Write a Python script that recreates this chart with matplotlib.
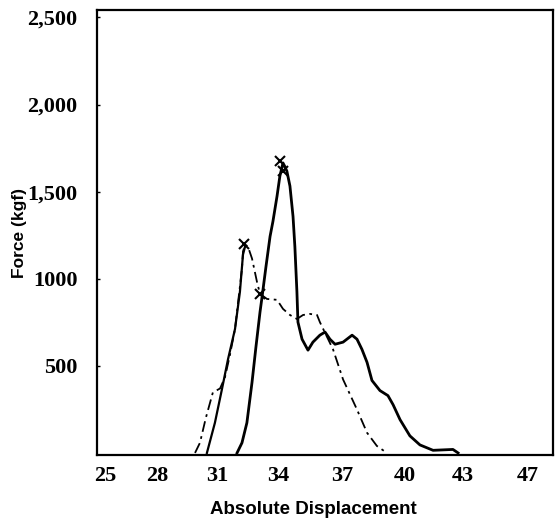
#!/usr/bin/env python3
import matplotlib

matplotlib.use("Agg")
import matplotlib.pyplot as plt

# main specimen (solid, thick)
solid_x = [31.98, 32.22, 32.46, 32.71, 32.90, 33.10, 33.20, 33.39, 33.59, 33.73,
           33.93, 34.07, 34.22, 34.41, 34.56, 34.71, 34.80, 34.90, 34.95, 35.15,
           35.44, 35.68, 36.02, 36.27, 36.51, 36.76, 37.15, 37.59, 37.83, 38.07,
           38.32, 38.56, 38.95, 39.34, 39.59, 39.93, 40.41, 40.90, 41.54, 42.51,
           42.76]
solid_y = [0, 58, 173, 405, 607, 809, 896, 1069, 1243, 1329,
           1474, 1590, 1665, 1618, 1532, 1358, 1185, 925, 751, 653,
           590, 636, 676, 694, 653, 624, 636, 676, 653, 595,
           520, 416, 358, 329, 277, 191, 98, 46, 15, 20,
           0]

# left specimen (solid, thinner, rising branch)
left_x = [30.51, 30.90, 31.24, 31.54, 31.88, 32.12, 32.27, 32.37]
left_y = [0, 173, 364, 538, 711, 925, 1139, 1185]

# dash-dot specimen
dash_x = [29.93, 30.17, 30.46, 30.80, 31.15, 31.39, 31.63, 31.88, 32.22, 32.27,
          32.37, 32.51, 32.71, 32.95, 33.10, 33.44, 33.93, 34.22, 34.56, 34.90,
          35.20, 35.54, 35.88, 36.02, 36.66, 37.15, 37.83, 38.32, 38.80, 39.29]
dash_y = [0, 58, 202, 347, 370, 434, 561, 711, 1058, 1156,
          1197, 1185, 1116, 983, 913, 884, 879, 827, 792, 769,
          792, 798, 792, 751, 595, 422, 249, 116, 40, 0]

# peak / crossing marks
mark_x = [34.07, 34.22, 32.33, 33.10]
mark_y = [1676, 1618, 1200, 915]

xtick_pos = [25.54, 28.07, 31.0, 33.98, 37.10, 40.17, 43.0, 46.17]
xtick_labels = ["25", "28", "31", "34", "37", "40", "43", "47"]
ytick_pos = [500, 1000, 1500, 2000, 2500]
ytick_labels = ["500", "1000", "1,500", "2,000", "2,500"]

fig = plt.figure(figsize=(5.55, 5.25), dpi=100)
ax = fig.add_axes([0.1748, 0.1333, 0.8216, 0.8477])

ax.plot(dash_x, dash_y, color="black", lw=1.3, ls=(0, (6, 2.5, 1.5, 2.5)))
ax.plot(left_x, left_y, color="black", lw=1.6)
ax.plot(solid_x, solid_y, color="black", lw=2.0)
ax.plot(mark_x, mark_y, ls="none", marker="x", ms=7, mew=1.5, color="black")

ax.set_xlim(25.15, 47.39)
ax.set_ylim(-12, 2543)
ax.set_xticks(xtick_pos)
ax.set_xticklabels(xtick_labels, family="Liberation Serif", weight="bold", fontsize=16)
ax.set_yticks(ytick_pos)
ax.set_yticklabels(ytick_labels, family="Liberation Serif", weight="bold", fontsize=16)
ax.tick_params(axis="x", length=0, pad=8)
ax.tick_params(axis="y", direction="in", length=2, width=1, pad=14)
for side in ax.spines.values():
    side.set_linewidth(1.6)

fig.text(313 / 555, 1 - 510 / 525, "Absolute Displacement", ha="center", va="center",
         family="Liberation Sans", weight="bold", fontsize=13.5)
fig.text(20 / 555, 1 - 233 / 525, "Force (kgf)", ha="center", va="center",
         rotation=90, family="Liberation Sans", weight="bold", fontsize=12.5)

fig.savefig("out.png", dpi=100)
